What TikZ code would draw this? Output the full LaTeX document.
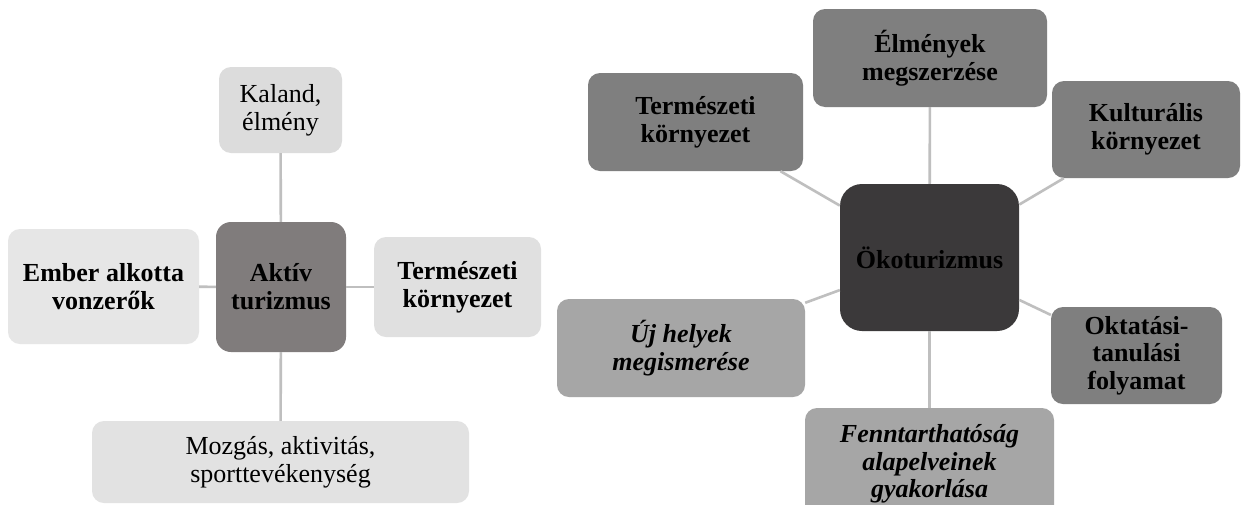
\documentclass[tikz,border=0pt]{standalone}
\usepackage{fontspec}
\setmainfont{Liberation Serif}
\newfontfamily\tnr{Liberation Serif}
\definecolor{lgA}{HTML}{E6E6E6}
\definecolor{lgB}{HTML}{DCDCDC}
\definecolor{lgC}{HTML}{E0E0E0}
\definecolor{lgD}{HTML}{E2E2E2}
\definecolor{midg}{HTML}{7F7F7F}
\definecolor{aktg}{HTML}{807C7C}
\definecolor{darkg}{HTML}{3B393A}
\definecolor{ltg}{HTML}{A6A6A6}
\definecolor{linec}{HTML}{BFBFBF}
\tikzset{
  box/.style={rectangle, rounded corners=12pt, inner sep=0pt, align=center,
    font=\tnr\fontsize{26}{28}\selectfont},
  boldbox/.style={box, font=\tnr\fontsize{26}{28}\selectfont\bfseries},
  conn/.style={draw=linec, line width=2.6pt},
}
\begin{document}
\begin{tikzpicture}[x=1pt,y=-1pt]
\clip (0,0) rectangle (1241,504);
\fill[white] (0,0) rectangle (1241,504);
% left diagram
\node[box, fill=lgB, minimum width=123pt, minimum height=86pt] (kal) at (280.5,110) {Kaland,\\élmény};
\node[boldbox, fill=aktg, rounded corners=15pt, minimum width=130pt, minimum height=130pt] (akt) at (281,287) {Aktív\\turizmus};
\node[boldbox, fill=lgA, minimum width=191pt, minimum height=115pt] (emb) at (103.5,286.5) {Ember alkotta\\vonzerők};
\node[boldbox, fill=lgC, minimum width=167pt, minimum height=100pt] (terl) at (457.5,287) {Természeti\\környezet};
\node[box, fill=lgD, minimum width=377pt, minimum height=82pt] (moz) at (280.5,462) {Mozgás, aktivitás,\\sporttevékenység};
\draw[conn] (kal) -- (akt);
\draw[conn] (emb) -- (akt);
\draw[conn] (akt) -- (terl);
\draw[conn] (akt) -- (moz);
% right diagram
\node[boldbox, fill=darkg, rounded corners=22pt, minimum width=179pt, minimum height=147pt] (oko) at (929.5,257.5) {Ökoturizmus};
\node[boldbox, fill=midg, minimum width=234pt, minimum height=98pt] (elm) at (930,58) {Élmények\\megszerzése};
\node[boldbox, fill=midg, minimum width=215pt, minimum height=98pt] (terr) at (695.5,122) {Természeti\\környezet};
\node[boldbox, fill=midg, minimum width=188pt, minimum height=97pt] (kul) at (1146,129.5) {Kulturális\\környezet};
\node[boldbox, fill=ltg, minimum width=248pt, minimum height=98pt, font=\tnr\fontsize{26}{28}\selectfont\bfseries\itshape] (uj) at (681,348) {Új helyek\\megismerése};
\node[boldbox, fill=midg, minimum width=171pt, minimum height=97pt, font=\tnr\fontsize{26}{27.5}\selectfont\bfseries] (okt) at (1136.5,355.5) {Oktatási-\\tanulási\\folyamat};
\node[boldbox, fill=ltg, minimum width=249pt, minimum height=112pt, font=\tnr\fontsize{26}{27.5}\selectfont\bfseries\itshape] (fen) at (929.5,464) {Fenntarthatóság\\alapelveinek\\gyakorlása};
\draw[conn] (elm) -- (oko);
\draw[conn] (terr) -- (oko);
\draw[conn] (kul) -- (oko);
\draw[conn] (uj) -- (oko);
\draw[conn] (okt) -- (oko);
\draw[conn] (fen) -- (oko);
\end{tikzpicture}
\end{document}
